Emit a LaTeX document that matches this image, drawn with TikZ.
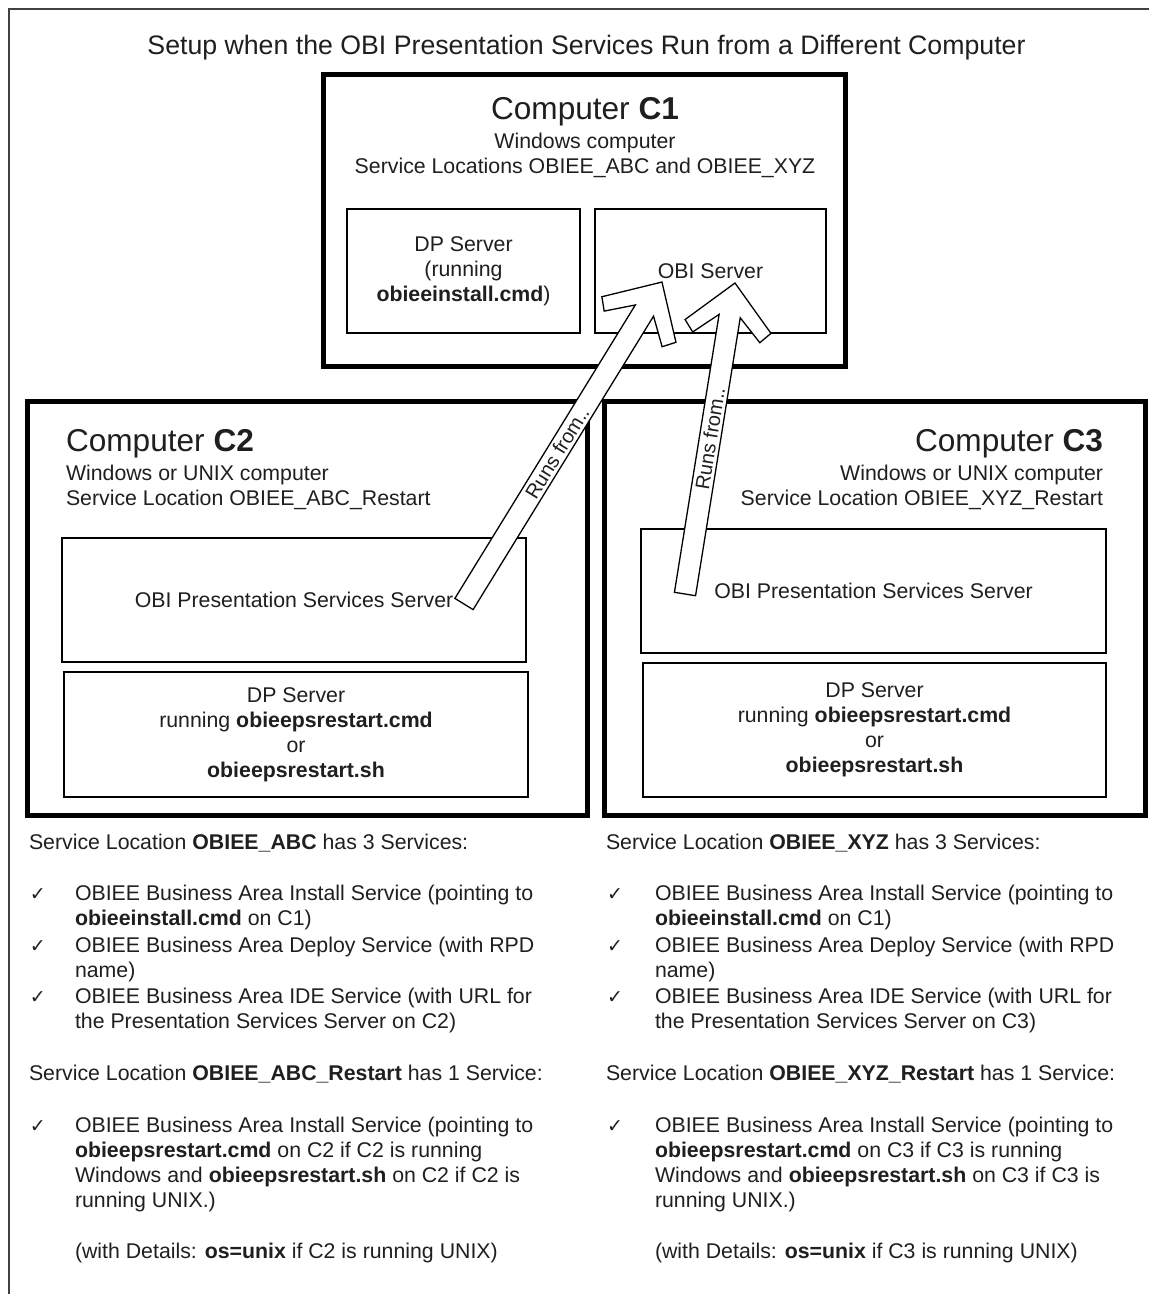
\documentclass[tikz,border=0pt]{standalone}
\usepackage{fontspec}
\setmainfont{Liberation Sans}
\newfontfamily\symfont{DejaVu Sans}
\usetikzlibrary{calc}
\newcommand\bodyfont{\fontsize{21.3}{25}\selectfont}
\newcommand\titlefont{\fontsize{26.7}{30}\selectfont}
\newcommand\bigfont{\fontsize{31.6}{36}\selectfont}
\newcommand\runsfont{\fontsize{20}{22}\selectfont}
\newcommand\chk{{\symfont\fontsize{19}{20}\selectfont ✓}}
\newcommand{\runsarrow}[4]{%
  \path let \p1=($(#2)-(#1)$) in \pgfextra{%
    \pgfmathsetmacro\arrang{atan2(\y1,\x1)}%
    \pgfmathsetmacro\arrlen{veclen(\x1,\y1)}%
    \global\let\arrang\arrang\global\let\arrlen\arrlen};
  \begin{scope}[shift={(#1)}, rotate=\arrang]
    \draw[arrowline] (0,-10.7) -- ({\arrlen-33.5},-10.7) -- ({\arrlen-55},-34)
      -- ({\arrlen-44},-43.5) -- (\arrlen,0) -- ({\arrlen-44},43.5)
      -- ({\arrlen-55},34) -- ({\arrlen-33.5},10.7) -- (0,10.7) -- cycle;
    \node[runs, rotate=\arrang] (#3) at ({\arrlen*#4},0) {Runs from..};
  \end{scope}}
\begin{document}
\begin{tikzpicture}[x=1pt,y=-1pt,
  outer/.style={line width=2pt, draw=black!75},
  cbox/.style={draw=black, line width=5pt, inner sep=0pt, outer sep=0pt, anchor=north west},
  ibox/.style={draw=black, line width=1.8pt, inner sep=0pt, outer sep=0pt, anchor=north west,
    align=center, font=\bodyfont, text=black!88},
  pbox/.style={ibox, line width=2.8pt},
  txt/.style={inner sep=0pt, outer sep=0pt, font=\bodyfont, text=black!88},
  para/.style={txt, anchor=north west, align=left},
  runs/.style={inner sep=0pt, font=\runsfont, text=black!88},
  arrowline/.style={draw=black, fill=white, line width=1.3pt, line join=miter}]
\useasboundingbox (0,0) rectangle (1149,1294);
\fill[white] (0,0) rectangle (1149,1294);
% outer frame
\coordinate (fr1) at (1149,9);
\coordinate (fr2) at (9,9);
\coordinate (fr3) at (9,1294);
\draw[outer] (fr1) -- (fr2) -- (fr3);

\node[txt, font=\titlefont, anchor=base] (title) at (586.5,54)
  {Setup when the OBI Presentation Services Run from a Different Computer};

% Computer C1
\node[cbox, minimum width=522, minimum height=292] (c1) at (323,74) {};
\node[txt, font=\bigfont, anchor=base] (c1t) at (585,119.3) {Computer \textbf{C1}};
\node[txt, anchor=base] (c1s1) at (585,148.7) {Windows computer};
\node[txt, anchor=base] (c1s2) at (585,173.7) {Service Locations OBIEE\_ABC and OBIEE\_XYZ};
\node[ibox, minimum width=233, minimum height=124] (c1dp) at (347,209)
  {DP Server\\(running\\\textbf{obieeinstall.cmd})};
\node[ibox, minimum width=231, minimum height=124] (c1obi) at (595,209) {OBI Server};

% Computer C2
\node[cbox, minimum width=560, minimum height=414] (c2) at (27,401) {};
\node[txt, font=\bigfont, anchor=base west] (c2t) at (66,451.3) {Computer \textbf{C2}};
\node[txt, anchor=base west] (c2s1) at (66,480.7) {Windows or UNIX computer};
\node[txt, anchor=base west] (c2s2) at (66,505.7) {Service Location OBIEE\_ABC\_Restart};
\node[pbox, minimum width=464, minimum height=124] (c2ps) at (62,538)
  {OBI Presentation Services Server};
\node[ibox, minimum width=464, minimum height=125] (c2dp) at (64,672)
  {DP Server\\running \textbf{obieepsrestart.cmd}\\or\\\textbf{obieepsrestart.sh}};

% Computer C3
\node[cbox, minimum width=541, minimum height=414] (c3) at (604,401) {};
\node[txt, font=\bigfont, anchor=base east] (c3t) at (1103,451.3) {Computer \textbf{C3}};
\node[txt, anchor=base east] (c3s1) at (1103,480.7) {Windows or UNIX computer};
\node[txt, anchor=base east] (c3s2) at (1103,505.7) {Service Location OBIEE\_XYZ\_Restart};
\node[pbox, minimum width=465, minimum height=124] (c3ps) at (641,529)
  {OBI Presentation Services Server};
\node[ibox, minimum width=463, minimum height=134] (c3dp) at (643,663)
  {DP Server\\running \textbf{obieepsrestart.cmd}\\or\\\textbf{obieepsrestart.sh}};

% left column text
\node[txt, anchor=base west] (lh1) at (29,849.7) {Service Location \textbf{OBIEE\_ABC} has 3 Services:};
\node[txt, anchor=base west] (lc1) at (30,900.7) {\chk};
\node[para] (li1) at (75,885.4) {OBIEE Business Area Install Service (pointing to\\\textbf{obieeinstall.cmd} on C1)};
\node[txt, anchor=base west] (lc2) at (30,952.7) {\chk};
\node[para] (li2) at (75,937.4) {OBIEE Business Area Deploy Service (with RPD\\name)};
\node[txt, anchor=base west] (lc3) at (30,1003.7) {\chk};
\node[para] (li3) at (75,988.4) {OBIEE Business Area IDE Service (with URL for\\the Presentation Services Server on C2)};
\node[txt, anchor=base west] (lh2) at (29,1080.7) {Service Location \textbf{OBIEE\_ABC\_Restart} has 1 Service:};
\node[txt, anchor=base west] (lc4) at (30,1132.7) {\chk};
\node[para] (li4) at (75,1117.4) {OBIEE Business Area Install Service (pointing to\\\textbf{obieepsrestart.cmd} on C2 if C2 is running\\Windows and \textbf{obieepsrestart.sh} on C2 if C2 is\\running UNIX.)};
\node[txt, anchor=base west] (ld) at (75,1258.7) {(with Details: \textbf{os=unix} if C2 is running UNIX)};

% right column text
\node[txt, anchor=base west] (rh1) at (606,849.7) {Service Location \textbf{OBIEE\_XYZ} has 3 Services:};
\node[txt, anchor=base west] (rc1) at (607,900.7) {\chk};
\node[para] (ri1) at (655,885.4) {OBIEE Business Area Install Service (pointing to\\\textbf{obieeinstall.cmd} on C1)};
\node[txt, anchor=base west] (rc2) at (607,952.7) {\chk};
\node[para] (ri2) at (655,937.4) {OBIEE Business Area Deploy Service (with RPD\\name)};
\node[txt, anchor=base west] (rc3) at (607,1003.7) {\chk};
\node[para] (ri3) at (655,988.4) {OBIEE Business Area IDE Service (with URL for\\the Presentation Services Server on C3)};
\node[txt, anchor=base west] (rh2) at (606,1080.7) {Service Location \textbf{OBIEE\_XYZ\_Restart} has 1 Service:};
\node[txt, anchor=base west] (rc4) at (607,1132.7) {\chk};
\node[para] (ri4) at (655,1117.4) {OBIEE Business Area Install Service (pointing to\\\textbf{obieepsrestart.cmd} on C3 if C3 is running\\Windows and \textbf{obieepsrestart.sh} on C3 if C3 is\\running UNIX.)};
\node[txt, anchor=base west] (rd) at (655,1258.7) {(with Details: \textbf{os=unix} if C3 is running UNIX)};

% arrows
\coordinate (t1) at (464,604);
\coordinate (h1) at (662,282);
\coordinate (t2) at (685,594);
\coordinate (h2) at (735,283);
\runsarrow{t1}{h1}{runs1}{0.47}
\runsarrow{t2}{h2}{runs2}{0.5}
\end{tikzpicture}
\end{document}
